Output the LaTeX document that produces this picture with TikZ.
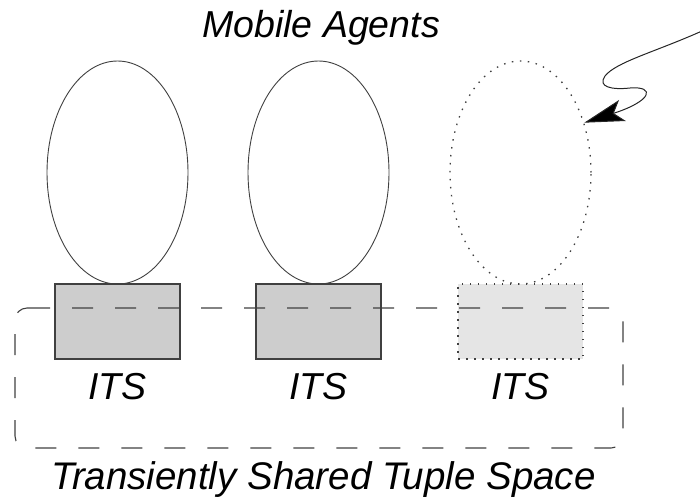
\documentclass[tikz,border=0pt]{standalone}
\usepackage{fontspec}
\setmainfont{Liberation Sans}
\usetikzlibrary{shapes.geometric,arrows.meta}
\definecolor{itsfill}{HTML}{CDCDCD}
\definecolor{itslight}{HTML}{E5E5E5}
\definecolor{edge}{HTML}{404040}
\begin{document}
\begin{tikzpicture}[x=1pt,y=-1pt,
  agent/.style={ellipse, draw=edge, line width=0.9pt, inner sep=0pt,
    minimum width=141pt, minimum height=223pt},
  ghost/.style={agent, dash pattern=on 1.5pt off 6.5pt, line width=1.3pt},
  its/.style={rectangle, draw=edge, line width=1.1pt, fill=itsfill, inner sep=0pt,
    minimum width=125pt, minimum height=75pt},
  itsghost/.style={its, fill=itslight, dash pattern=on 1.5pt off 6.5pt, line width=1.3pt},
  lbl/.style={font=\fontsize{37.5}{40}\selectfont\itshape, anchor=base, inner sep=0pt},
  space/.style={draw=edge, line width=1.1pt, dash pattern=on 21pt off 22pt, rounded corners=12pt},
  arr/.style={draw=black!85, line width=1pt,
    -{Stealth[length=40pt, width=22pt, inset=9pt, fill=black]}}
]
\useasboundingbox (0,0) rectangle (700,499);

% interface tuple spaces
\node[its]      (t1) at (117.5,321.5) {};
\node[its]      (t2) at (318.5,321.5) {};
\node[itsghost] (t3) at (520.5,321.5) {};

% mobile agents
\node[agent] (e1) at (117.5,172.5) {};
\node[agent] (e2) at (318.5,172.5) {};
\node[ghost] (e3) at (520.5,172.5) {};

% transiently shared tuple space
\draw[space] (29,308) -- (623,308) -- (623,448) -- (15,448) -- (15,308) -- (29,308);

% labels
\node[lbl] (title) at (321,37) {Mobile Agents};
\node[lbl] (l1) at (117.5,399) {ITS};
\node[lbl] (l2) at (318.5,399) {ITS};
\node[lbl] (l3) at (520.5,399) {ITS};
\node[lbl, font=\fontsize{38.5}{40}\selectfont\itshape] (shared) at (323.5,489) {Transiently Shared Tuple Space};

% incoming agent
\coordinate (src) at (702,31);
\draw[arr] (src) .. controls (655,52) and (616,62) .. (605,76)
  .. controls (597,87) and (612,90) .. (630,88)
  .. controls (656,86) and (652,101) .. (e3.38);
\end{tikzpicture}
\end{document}
